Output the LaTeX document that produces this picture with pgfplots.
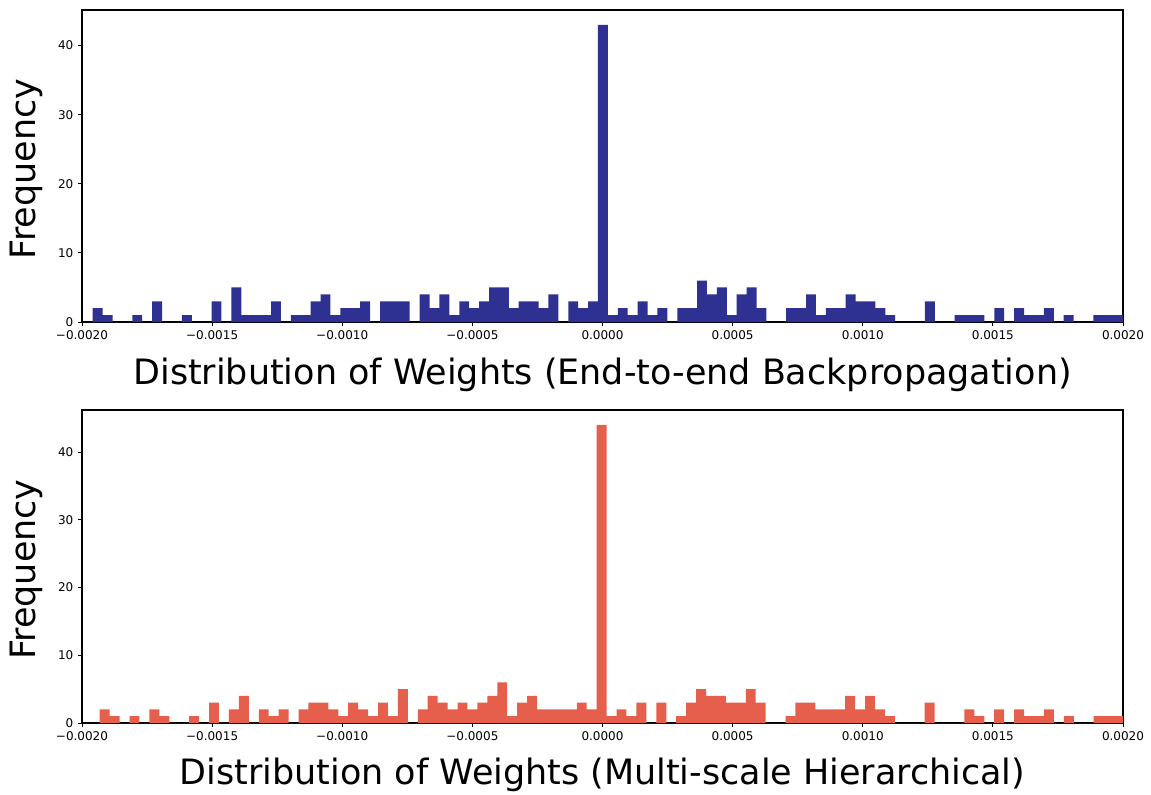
\documentclass[border=0pt]{standalone}
\usepackage{fontspec}
\setmainfont{DejaVu Sans}
\usepackage{pgfplots}
\usepackage{pgfplotstable}
\pgfplotsset{compat=1.18}

\definecolor{topbar}{RGB}{46,49,145}
\definecolor{botbar}{RGB}{230,94,76}

% bin index and count; bin edges are recovered from the index below
\pgfplotstableread{
j c
-52 2
-51 1
-50 0
-49 0
-48 1
-47 0
-46 3
-45 0
-44 0
-43 1
-42 0
-41 0
-40 3
-39 0
-38 5
-37 1
-36 1
-35 1
-34 3
-33 0
-32 1
-31 1
-30 3
-29 4
-28 1
-27 2
-26 2
-25 3
-24 0
-23 3
-22 3
-21 3
-20 0
-19 4
-18 2
-17 4
-16 1
-15 3
-14 2
-13 3
-12 5
-11 5
-10 2
-9 3
-8 3
-7 2
-6 4
-5 0
-4 3
-3 2
-2 3
-1 43
0 1
1 2
2 1
3 3
4 1
5 2
6 0
7 2
8 2
9 6
10 4
11 5
12 1
13 4
14 5
15 2
16 0
17 0
18 2
19 2
20 4
21 1
22 2
23 2
24 4
25 3
26 3
27 2
28 1
29 0
30 0
31 0
32 3
33 0
34 0
35 1
36 1
37 1
38 0
39 2
40 0
41 2
42 1
43 1
44 2
45 0
46 1
47 0
48 0
49 1
50 1
51 1
52 0
}\histE

\pgfplotstableread{
j c
-51 2
-50 1
-49 0
-48 1
-47 0
-46 2
-45 1
-44 0
-43 0
-42 1
-41 0
-40 3
-39 0
-38 2
-37 4
-36 0
-35 2
-34 1
-33 2
-32 0
-31 2
-30 3
-29 3
-28 2
-27 1
-26 3
-25 2
-24 1
-23 3
-22 1
-21 5
-20 0
-19 2
-18 4
-17 3
-16 2
-15 3
-14 2
-13 3
-12 4
-11 6
-10 1
-9 3
-8 4
-7 2
-6 2
-5 2
-4 2
-3 3
-2 2
-1 44
0 1
1 2
2 1
3 3
4 0
5 3
6 0
7 1
8 3
9 5
10 4
11 4
12 3
13 3
14 5
15 3
16 0
17 0
18 1
19 3
20 3
21 2
22 2
23 2
24 4
25 2
26 4
27 2
28 1
29 0
30 0
31 0
32 3
33 0
34 0
35 0
36 2
37 1
38 0
39 2
40 0
41 2
42 1
43 1
44 2
45 0
46 1
47 0
48 0
49 1
50 1
51 1
52 0
}\histM

\pgfplotsset{
  histaxis/.style={
    scale only axis,
    width=780.75pt,
    xmin=-0.002, xmax=0.002, ymin=0,
    axis line style={line width=0.8pt},
    tick align=outside, xtick pos=bottom, ytick pos=left,
    major tick length=3pt,
    tick style={line width=0.7pt, black},
    xtick={-0.002,-0.0015,-0.001,-0.0005,0,0.0005,0.001,0.0015,0.002},
    xticklabels={−0.0020,−0.0015,−0.0010,−0.0005,0.0000,0.0005,0.0010,0.0015,0.0020},
    scaled x ticks=false,
    ytick={0,10,20,30,40},
    ticklabel style={font=\fontsize{9}{10}\selectfont},
    /pgf/number format/assume math mode=true,
    ylabel={Frequency},
    ylabel style={at={(axis description cs:-0.053,0.49)}, anchor=center,
      font=\fontsize{26.2}{29}\selectfont},
    xlabel style={anchor=base, font=\fontsize{26.2}{29}\selectfont},
  }
}

\begin{document}
\begin{tikzpicture}
\path[use as bounding box] (-61.5pt,241.5pt) rectangle (801.75pt,-354pt);

\begin{axis}[histaxis,
  at={(0pt,0pt)}, anchor=south west,
  height=234pt, ymax=45.15,
  xlabel={Distribution of Weights (End-to-end Backpropagation)},
  xlabel style={at={(axis description cs:0.5,-0.199)}},
]
\addplot[ybar interval, fill=topbar, draw=none]
  table[x expr={2.07e-5+(\thisrow{j})*3.807e-5}, y=c] {\histE};
\end{axis}

\begin{axis}[histaxis,
  at={(0pt,-300.75pt)}, anchor=south west,
  height=234.75pt, ymax=46.2,
  xlabel={Distribution of Weights (Multi-scale Hierarchical)},
  xlabel style={at={(axis description cs:0.5,-0.195)}},
]
\addplot[ybar interval, fill=botbar, draw=none]
  table[x expr={1.58e-5+(\thisrow{j})*3.819e-5}, y=c] {\histM};
\end{axis}
\end{tikzpicture}
\end{document}
